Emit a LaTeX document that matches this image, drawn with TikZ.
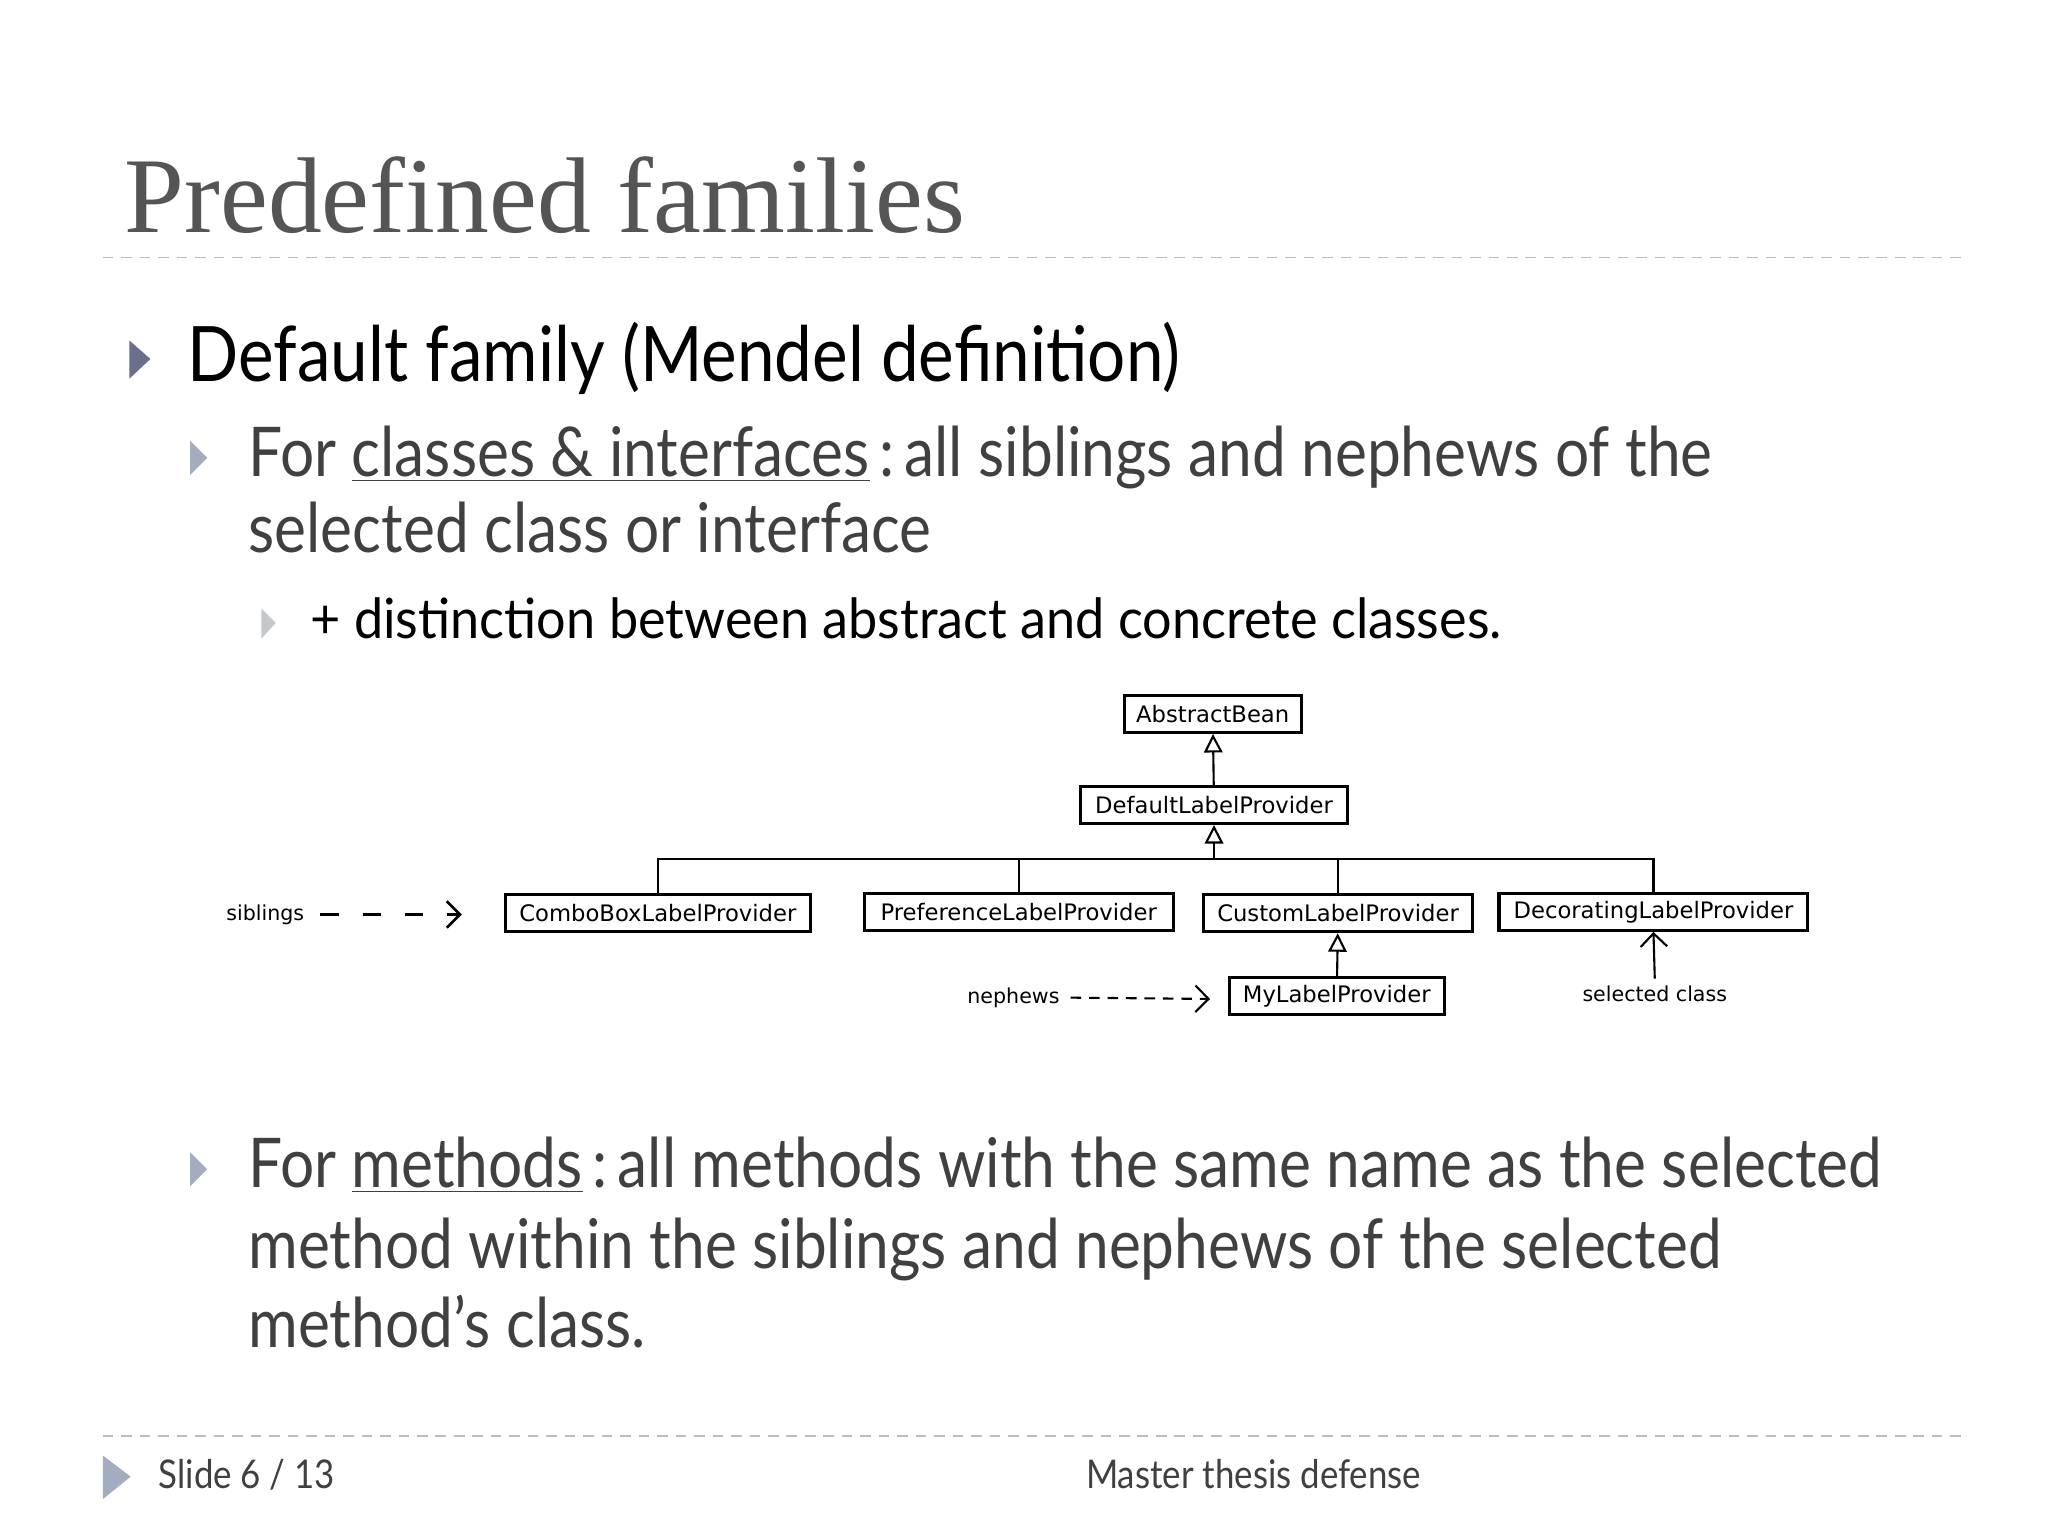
\documentclass[tikz,border=0pt]{standalone}
\usepackage{fontspec}
\setmainfont{Lato}
\newfontfamily\titlefont{Liberation Serif}
\newfontfamily\diafont{DejaVu Sans}
\usetikzlibrary{arrows.meta}
\definecolor{titlegrey}{HTML}{555555}
\definecolor{bodygrey}{HTML}{404040}
\definecolor{bulA}{HTML}{6B6F8C}
\definecolor{bulB}{HTML}{A3ADBF}
\definecolor{bulC}{HTML}{C4C7CC}
\definecolor{rulegrey}{HTML}{B8BCC4}
\newcommand{\ul}[1]{\underline{#1}}
\tikzset{
 cls/.style={draw=black,line width=1.2pt,font=\diafont\fontsize{8.6}{10}\selectfont,inner sep=0pt,minimum height=14pt},
 lab/.style={font=\diafont\fontsize{7.8}{9}\selectfont,inner sep=0pt},
 inh/.style={-{Triangle[open,length=7pt,width=7pt]},line width=0.8pt},
 txt/.style={anchor=base west,inner sep=0pt,transform shape,xscale=0.88},
 bul/.style={fill=#1,draw=none},
 rul/.style={rulegrey,dashed,dash pattern=on 4pt off 3pt,line width=0.6pt}
}
\begin{document}
\begin{tikzpicture}[x=0.5pt,y=-0.5pt]
\useasboundingbox (0,0) rectangle (1552,1164);
\fill[white] (0,0) rectangle (1552,1164);
% title
\node[anchor=base west,inner sep=0pt,text=titlegrey,font=\titlefont\fontsize{40.8}{42}\selectfont] (title) at (94,176) {Predefined families};
\draw[rul] (78,195) -- (1490,195);
% level 1
\fill[bulA] (98,258) -- (114,272) -- (98,287) -- cycle;
\node[txt,font=\fontsize{29}{30}\selectfont] (l1) at (142,289) {Default family (Mendel definition)};
% level 2
\fill[bulB] (144,334) -- (157,347) -- (144,360) -- cycle;
\node[txt,text=bodygrey,font=\fontsize{26}{30}\selectfont] (l2a) at (188,361) {For \ul{classes \& interfaces}\,:\,all siblings and nephews of the};
\node[txt,text=bodygrey,font=\fontsize{26}{30}\selectfont] (l2b) at (188,419) {selected class or interface};
% level 3
\fill[bulC] (198,461) -- (209,472) -- (198,484) -- cycle;
\node[txt,xscale=1.07,font=\fontsize{21}{24}\selectfont] (l3) at (235,484) {+ distinction between abstract and concrete classes.};
% diagram
\node[cls,minimum width=67pt] (ab) at (919,541) {AbstractBean};
\node[cls,minimum width=101pt] (dlp) at (920,610) {DefaultLabelProvider};
\node[cls,minimum width=115.5pt] (cb) at (498.5,692) {ComboBoxLabelProvider};
\node[cls,minimum width=117pt] (pr) at (772,691) {PreferenceLabelProvider};
\node[cls,minimum width=102pt] (cu) at (1014,692) {CustomLabelProvider};
\node[cls,minimum width=117pt] (de) at (1253,691) {DecoratingLabelProvider};
\node[cls,minimum width=81.5pt] (my) at (1013,755) {MyLabelProvider};
\coordinate (bus) at (920,651);
\draw[inh] (dlp) -- (ab);
\draw[inh] (bus) -- (dlp);
\draw[line width=0.8pt] (cb.north) |- (bus) (pr.north) |- (bus) (cu.north) |- (bus) (de.north) |- (bus);
\draw[inh] (my) -- (cu);
\node[lab] (sib) at (201,693) {siblings};
\node[lab] (nep) at (768,756) {nephews};
\node[lab] (sel) at (1254,753) {selected class};
\coordinate (sibe) at (350,693);
\coordinate (nepe) at (917,757);
\draw[dashed,dash pattern=on 7pt off 9pt,line width=1pt,-{Straight Barb[length=5pt]}] (sib.east)++(12,0) -- (sibe);
\draw[dashed,dash pattern=on 4pt off 3pt,line width=0.8pt,-{Straight Barb[length=5pt]}] (nep.east)++(8,0) -- (nepe);
\draw[line width=0.8pt,-{Straight Barb[length=5pt]}] (sel.north)++(0,-5) -- (de.south);
% methods
\fill[bulB] (144,873) -- (157,886) -- (144,899) -- cycle;
\node[txt,text=bodygrey,font=\fontsize{26}{30}\selectfont] (m1) at (188,900) {For \ul{methods}\,:\,all methods with the same name as the selected};
\node[txt,text=bodygrey,font=\fontsize{26}{30}\selectfont] (m2) at (188,961) {method within the siblings and nephews of the selected};
\node[txt,text=bodygrey,font=\fontsize{26}{30}\selectfont] (m3) at (188,1021) {method’s class.};
% footer
\draw[rul] (78,1088) -- (1490,1088);
\fill[bulB] (78,1103) -- (99,1119) -- (78,1136) -- cycle;
\node[txt,text=bodygrey,font=\fontsize{15}{18}\selectfont] (sl) at (120,1128) {Slide 6 / 13};
\node[anchor=base,inner sep=0pt,transform shape,xscale=0.88,text=bodygrey,font=\fontsize{15}{18}\selectfont] (mt) at (950,1128) {Master thesis defense};
\end{tikzpicture}
\end{document}
